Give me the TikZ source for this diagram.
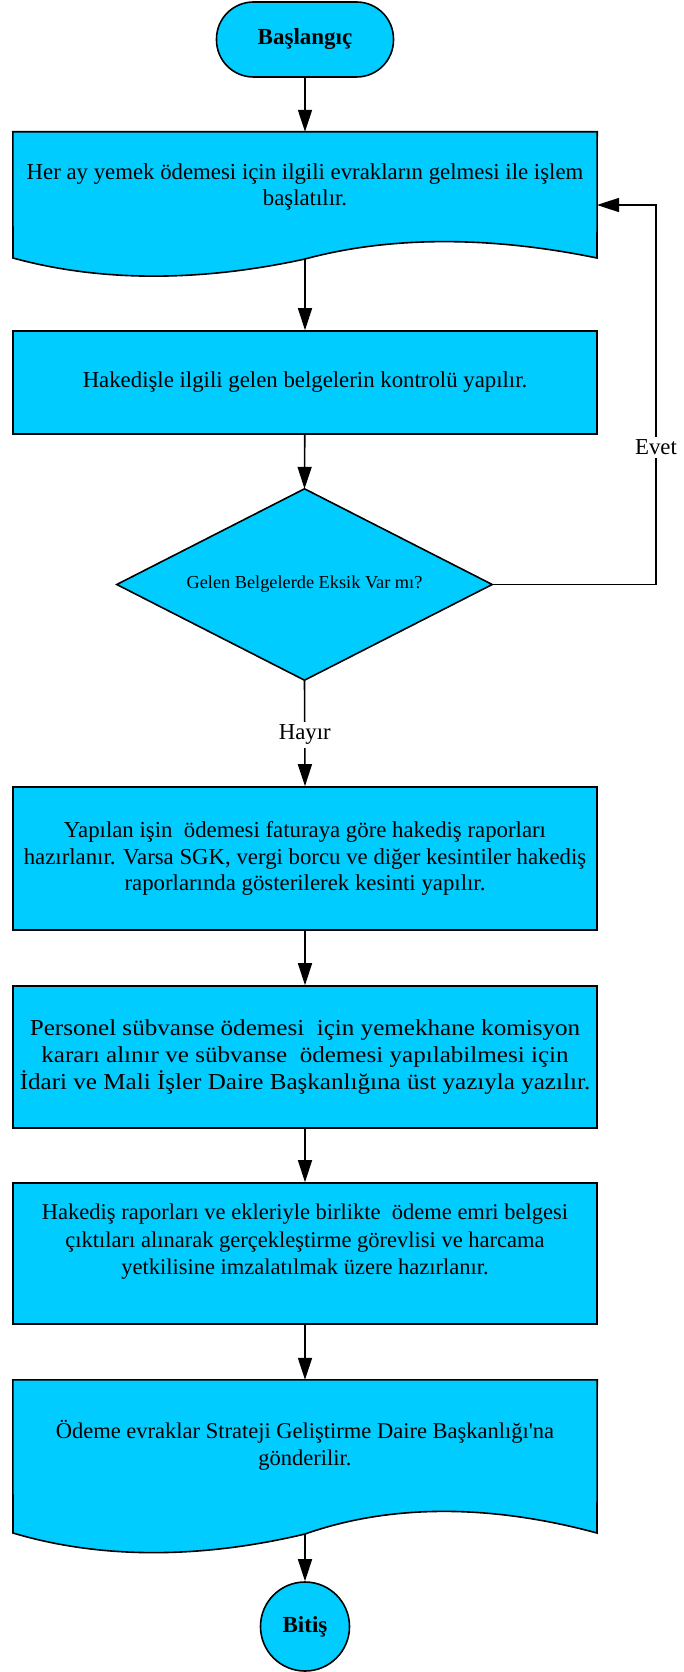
\documentclass[tikz,border=0pt]{standalone}
\usepackage{fontspec}
\setmainfont{Liberation Serif}
\newfontfamily\widefont[FakeStretch=1.1]{Liberation Serif}
\newfontfamily\rawserif{Liberation Serif}
\usetikzlibrary{arrows.meta}
\definecolor{boxfill}{HTML}{00CCFF}
\begin{document}
\begin{tikzpicture}[x=1pt,y=-1pt,
  shapeline/.style={draw=black, line width=1.6pt, fill=boxfill},
  procbox/.style={shapeline, rectangle, minimum width=584pt, inner sep=0pt, align=center, font=\fontsize{22.8}{26.5}\selectfont},
  txt/.style={align=center, inner sep=0pt, font=\fontsize{22.8}{26.5}\selectfont},
  arr/.style={line width=1.6pt, -{Triangle[length=22pt,width=14pt]}},
  lbl/.style={fill=white, inner sep=3pt, font=\fontsize{22.8}{26.5}\selectfont}]
\useasboundingbox (0,0) rectangle (683,1672);

% start
\node[shapeline, rounded corners=37pt, minimum width=177pt, minimum height=75pt, inner sep=0pt,
  font=\bfseries\fontsize{23}{27}\selectfont] (start) at (305,39.5) {Başlangıç};

% document 1
\node[inner sep=0pt, minimum width=584pt, minimum height=126pt] (b1) at (305,195) {};
\path[shapeline] (b1.north west) -- (b1.north east) -- (597,258)
  .. controls (490,236) and (390,236) .. (305,259)
  .. controls (200,282) and (100,282) .. (13,258) -- cycle;
\coordinate (b1w) at (305,259);
\coordinate (b1e) at (597,205);
\node[txt] (t1) at (305,187) {Her ay yemek ödemesi için ilgili evrakların gelmesi ile işlem\\başlatılır.};

% box 2
\node[procbox, minimum height=103pt] (b2) at (305,382.5) {Hakedişle ilgili gelen belgelerin kontrolü yapılır.};

% decision
\node[inner sep=0pt, minimum width=375pt, minimum height=191pt] (d) at (304.5,584.5) {};
\path[shapeline] (d.north) -- (d.east) -- (d.south) -- (d.west) -- cycle;
\node[txt, font=\fontsize{18.3}{22}\selectfont] (dt) at (d.center) {Gelen Belgelerde Eksik Var mı?};

% box 3
\node[procbox, minimum height=143pt] (b3) at (305,858.5) {Yapılan işin\ \ ödemesi faturaya göre hakediş raporları\\hazırlanır. Varsa SGK, vergi borcu ve diğer kesintiler hakediş\\raporlarında gösterilerek kesinti yapılır.};

% box 4
\node[procbox, minimum height=142pt, font=\widefont\fontsize{22.8}{27.4}\selectfont] (b4) at (305,1057) {Personel sübvanse ödemesi\ \ için yemekhane komisyon\\kararı alınır ve sübvanse\ \ ödemesi yapılabilmesi için\\İdari ve Mali İşler Daire Başkanlığına üst yazıyla yazılır.};

% box 5
\node[procbox, minimum height=141pt] (b5) at (305,1253.5) {};
\node[txt, font=\fontsize{22.5}{27.5}\selectfont] (t5) at (305,1242) {Hakediş raporları ve ekleriyle birlikte\ \ ödeme emri belgesi\\çıktıları alınarak gerçekleştirme görevlisi ve harcama\\yetkilisine imzalatılmak üzere hazırlanır.};

% document 6
\node[inner sep=0pt, minimum width=584pt, minimum height=153pt] (b6) at (305,1456.5) {};
\path[shapeline] (b6.north west) -- (b6.north east) -- (597,1533)
  .. controls (490,1504) and (390,1504) .. (305,1534)
  .. controls (200,1559) and (100,1559) .. (13,1533) -- cycle;
\coordinate (b6w) at (305,1534);
\node[txt, font=\rawserif\fontsize{22.5}{27.5}\selectfont] (t6) at (305,1445.5) {Ödeme evraklar Strateji Geliştirme Daire Başkanlığı'na\\gönderilir.};

% end
\node[shapeline, circle, minimum size=89pt, inner sep=0pt,
  font=\bfseries\fontsize{23}{27}\selectfont] (end) at (305,1626.5) {Bitiş};

% connectors
\draw[arr] (start) -- (b1.north);
\draw[arr] (b1w) -- (b2.north);
\draw[arr] (b2) -- (d.north);
\draw[arr] (d.east) -- (656,584.5) -- node[lbl, pos=0.362] (evet) {Evet} (656,205) -- (b1e);
\draw[arr] (d.south) -- node[lbl, pos=0.514] (hayir) {Hayır} (b3.north);
\draw[arr] (b3) -- (b4);
\draw[arr] (b4) -- (b5);
\draw[arr] (b5) -- (b6.north);
\draw[arr] (b6w) -- (end);
\end{tikzpicture}
\end{document}
